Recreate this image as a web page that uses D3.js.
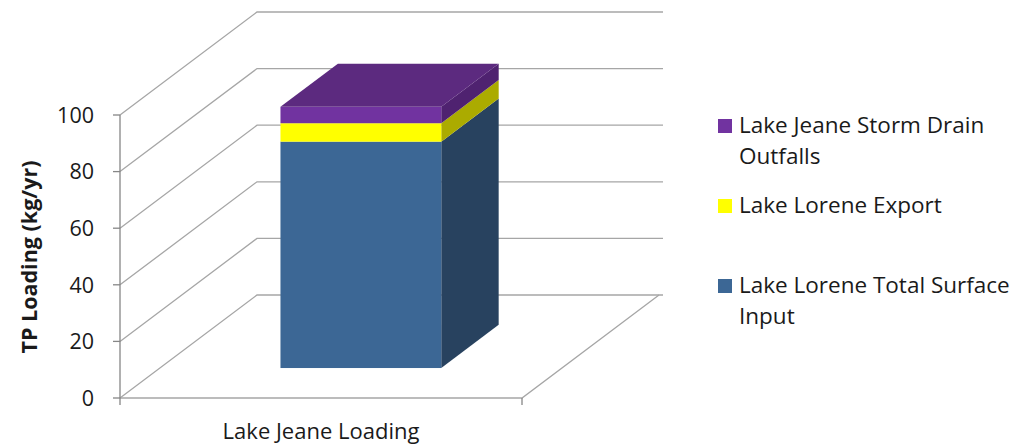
<!DOCTYPE html>
<html><head><meta charset="utf-8">
<script src="https://cdn.jsdelivr.net/npm/d3@7"></script>
<style>body{margin:0;background:#fff}svg{display:block}text{font-family:"Open Sans",sans-serif;fill:#1a1a1a}</style>
</head><body>
<svg id="c" width="1032" height="446"></svg>
<script>
const categories = ["Lake Jeane Loading"];
const seriesNames = ["Lake Lorene Total Surface Input", "Lake Lorene Export", "Lake Jeane Storm Drain Outfalls"];
const seriesValues = [[80.0], [6.5], [5.8]];
const yTicks = [0, 20, 40, 60, 80, 100];
const yTitle = "TP Loading (kg/yr)";
const legendLines = [["Lake Jeane Storm Drain", "Outfalls"], ["Lake Lorene Export"], ["Lake Lorene Total Surface", "Input"]];

const colors = [
  {front:"#3C6795", side:"#28425F", top:"#4A78AD"},
  {front:"#FFFF00", side:"#ABAB00", top:"#E6E600"},
  {front:"#7133A0", side:"#4F2270", top:"#5C2A7F"}
];

const svg = d3.select("#c");
const y = d3.scaleLinear().domain([0,100]).range([398,115]);
const x = d3.scaleBand().domain(categories).range([120,522]).paddingInner(0).paddingOuter(0);
const DX = 137, DY = -103;
const P = (px, v, t) => [px + t*DX, y(v) + t*DY];
const gridColor = "#A6A6A6";

const g = svg.append("g");
yTicks.forEach(v => {
  const a = P(120, v, 0), b = P(120, v, 1);
  g.append("path").attr("d", d3.line()([a,b,[663, b[1]]])).attr("fill","none").attr("stroke",gridColor).attr("stroke-width",1.3);
});
g.append("path").attr("d", d3.line()([P(120,0,0), P(522,0,0), P(522,0,1)])).attr("fill","none").attr("stroke",gridColor).attr("stroke-width",1.3);
g.append("line").attr("x1",120).attr("x2",120).attr("y1",y(100)).attr("y2",y(0)).attr("stroke","#868686").attr("stroke-width",1.3);
yTicks.forEach(v => {
  g.append("line").attr("x1",113).attr("x2",120).attr("y1",y(v)).attr("y2",y(v)).attr("stroke","#868686").attr("stroke-width",1.3);
  g.append("text").attr("x",94).attr("y",y(v)).attr("dy","0.36em").attr("text-anchor","end").attr("font-size",21.5).text(v);
});
[120,522].forEach(px => g.append("line").attr("x1",px).attr("x2",px).attr("y1",398).attr("y2",405).attr("stroke","#868686").attr("stroke-width",1.3));
categories.forEach(c => {
  g.append("text").attr("x", x(c)+x.bandwidth()/2).attr("y",439).attr("text-anchor","middle").attr("font-size",22).text(c);
});
g.append("text").attr("transform","translate(37,257) rotate(-90)").attr("text-anchor","middle").attr("font-size",21.5).attr("font-weight","bold").text(yTitle);

const t0 = 0.291, t1 = 0.71;
const barFrac = 0.4;
categories.forEach((c, ci) => {
  const bx0 = x(c) + x.bandwidth()*(1-barFrac)/2, bx1 = bx0 + x.bandwidth()*barFrac;
  let base = 0;
  seriesValues.forEach((vals, si) => {
    const v0 = base, v1 = base + vals[ci];
    base = v1;
    const col = colors[si];
    g.append("path").attr("d", d3.line()([P(bx1,v0,t0),P(bx1,v0,t1),P(bx1,v1,t1),P(bx1,v1,t0)])+"Z").attr("fill",col.side);
    const f0 = P(bx0,v1,t0), f1 = P(bx1,v0,t0);
    g.append("rect").attr("x",f0[0]).attr("y",f0[1]).attr("width",f1[0]-f0[0]).attr("height",f1[1]-f0[1]).attr("fill",col.front);
    if (si === seriesValues.length-1) {
      g.append("path").attr("d", d3.line()([P(bx0,v1,t0),P(bx0,v1,t1),P(bx1,v1,t1),P(bx1,v1,t0)])+"Z").attr("fill",col.top);
    }
  });
});

const legColors = [colors[2].front, colors[1].front, colors[0].front];
const legY = [119, 199, 279];
legendLines.forEach((lines, i) => {
  g.append("rect").attr("x",718).attr("y",legY[i]).attr("width",14).attr("height",14).attr("fill",legColors[i]);
  lines.forEach((ln, j) => {
    g.append("text").attr("x",739).attr("y",legY[i]+14+j*31).attr("font-size",22.5).text(ln);
  });
});
</script>
</body></html>
